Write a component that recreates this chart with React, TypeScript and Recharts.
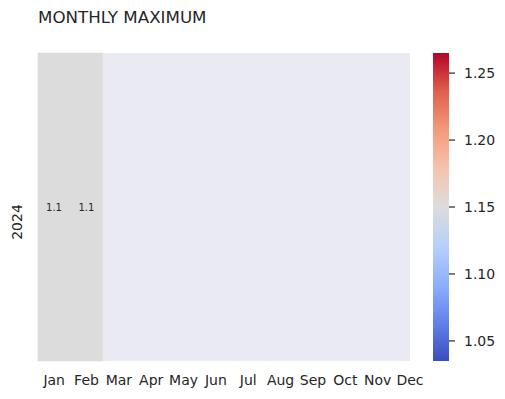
import { Bar, BarChart, Cell, LabelList, XAxis, YAxis } from "recharts";

const FONT = "'DejaVu Sans', sans-serif";
const INK = "#262626";

const MONTHS = ["Jan", "Feb", "Mar", "Apr", "May", "Jun", "Jul", "Aug", "Sep", "Oct", "Nov", "Dec"];
const MAXIMA: (number | null)[] = [1.15, 1.15, null, null, null, null, null, null, null, null, null, null];
const YEARS = ["2024"];

const VMIN = 1.035;
const VMAX = 1.265;
const CBAR_TICKS = [1.05, 1.1, 1.15, 1.2, 1.25];

// matplotlib coolwarm, sampled every 1/8
const COOLWARM = [
  "#3b4cc0", "#6282ea", "#8db0fe", "#b8d0f9", "#dddcdc",
  "#f5c4ad", "#f49a7b", "#de604d", "#b40426",
];

function hexToRgb(h: string) {
  return [1, 3, 5].map((i) => parseInt(h.slice(i, i + 2), 16));
}

function coolwarm(v: number) {
  const t = Math.min(1, Math.max(0, (v - VMIN) / (VMAX - VMIN)));
  const pos = t * (COOLWARM.length - 1);
  const i = Math.min(COOLWARM.length - 2, Math.floor(pos));
  const f = pos - i;
  const a = hexToRgb(COOLWARM[i]);
  const b = hexToRgb(COOLWARM[i + 1]);
  const c = a.map((x, k) => Math.round(x + (b[k] - x) * f));
  return `rgb(${c[0]},${c[1]},${c[2]})`;
}

const rows = MONTHS.map((month, i) => ({
  month,
  value: MAXIMA[i],
  cell: MAXIMA[i] == null ? null : 1,
}));

const cbar = [{ name: "scale", range: [VMIN, VMAX] }];

// axes box is 38..410 but the month grid runs past it (x limits stop at the Dec tick)
const AX_LEFT = 38;
const AX_RIGHT = 410;
const CELL_W = (AX_RIGHT - AX_LEFT) / 11.5;
const GRID_RIGHT = AX_LEFT + CELL_W * 12;

function YearTick(props: any) {
  const { y, index } = props;
  const cx = 17;
  const cy = y + 15;
  return (
    <text
      x={cx}
      y={cy}
      transform={`rotate(-90 ${cx} ${cy})`}
      textAnchor="middle"
      dominantBaseline="central"
      fontSize={14}
      fontFamily={FONT}
      fill={INK}
    >
      {YEARS[index ?? 0]}
    </text>
  );
}

export default function App() {
  return (
    <div style={{ position: "absolute", left: 0, top: 0, width: 505, height: 399, background: "#fff", fontFamily: FONT }}>
      <div
        style={{
          position: "absolute",
          left: 38,
          top: 9,
          fontSize: 16.7,
          lineHeight: 1,
          color: INK,
          whiteSpace: "nowrap",
        }}
      >
        MONTHLY MAXIMUM
      </div>

      <div
        style={{
          position: "absolute",
          left: AX_LEFT,
          top: 53,
          width: AX_RIGHT - AX_LEFT,
          height: 308,
          background: "#eaeaf2",
        }}
      />

      <div style={{ position: "absolute", left: 0, top: 0 }}>
        <BarChart
          width={505}
          height={399}
          data={rows}
          margin={{ top: 53, right: 505 - GRID_RIGHT, bottom: 8, left: 0 }}
          barCategoryGap={0}
        >
          <XAxis
            dataKey="month"
            axisLine={false}
            tickLine={false}
            height={30}
            interval={0}
            tickMargin={8}
            tick={{ fontSize: 14, fill: INK, fontFamily: FONT }}
          />
          <YAxis
            type="number"
            width={38}
            domain={[0, 1]}
            ticks={[0.5]}
            axisLine={false}
            tickLine={false}
            tick={YearTick}
          />
          <Bar dataKey="cell" isAnimationActive={false}>
            {rows.map((r) => {
              const c = r.value == null ? "none" : coolwarm(r.value);
              return <Cell key={r.month} fill={c} stroke={c} strokeWidth={0.6} />;
            })}
            <LabelList
              dataKey="value"
              position="center"
              formatter={(v: any) => (v == null ? "" : Number(v).toPrecision(2))}
              style={{ fontSize: 10, fill: INK, fontFamily: FONT }}
            />
          </Bar>
        </BarChart>
      </div>

      <div style={{ position: "absolute", left: 0, top: 0 }}>
        <BarChart
          width={505}
          height={399}
          data={cbar}
          margin={{ top: 53, right: 6, bottom: 38, left: 433 }}
          barCategoryGap={0}
        >
          <defs>
            <linearGradient id="coolwarm" x1="0" y1="1" x2="0" y2="0">
              {COOLWARM.map((c, i) => (
                <stop key={c} offset={`${(i / (COOLWARM.length - 1)) * 100}%`} stopColor={c} />
              ))}
            </linearGradient>
          </defs>
          <XAxis dataKey="name" hide />
          <YAxis
            orientation="right"
            type="number"
            width={50}
            domain={[VMIN, VMAX]}
            ticks={CBAR_TICKS}
            axisLine={false}
            tickSize={6}
            tickMargin={9}
            tickLine={{ stroke: INK, strokeWidth: 1.2 }}
            tickFormatter={(v: number) => v.toFixed(2)}
            tick={{ fontSize: 14, fill: INK, fontFamily: FONT }}
          />
          <Bar dataKey="range" fill="url(#coolwarm)" isAnimationActive={false} />
        </BarChart>
      </div>
    </div>
  );
}
